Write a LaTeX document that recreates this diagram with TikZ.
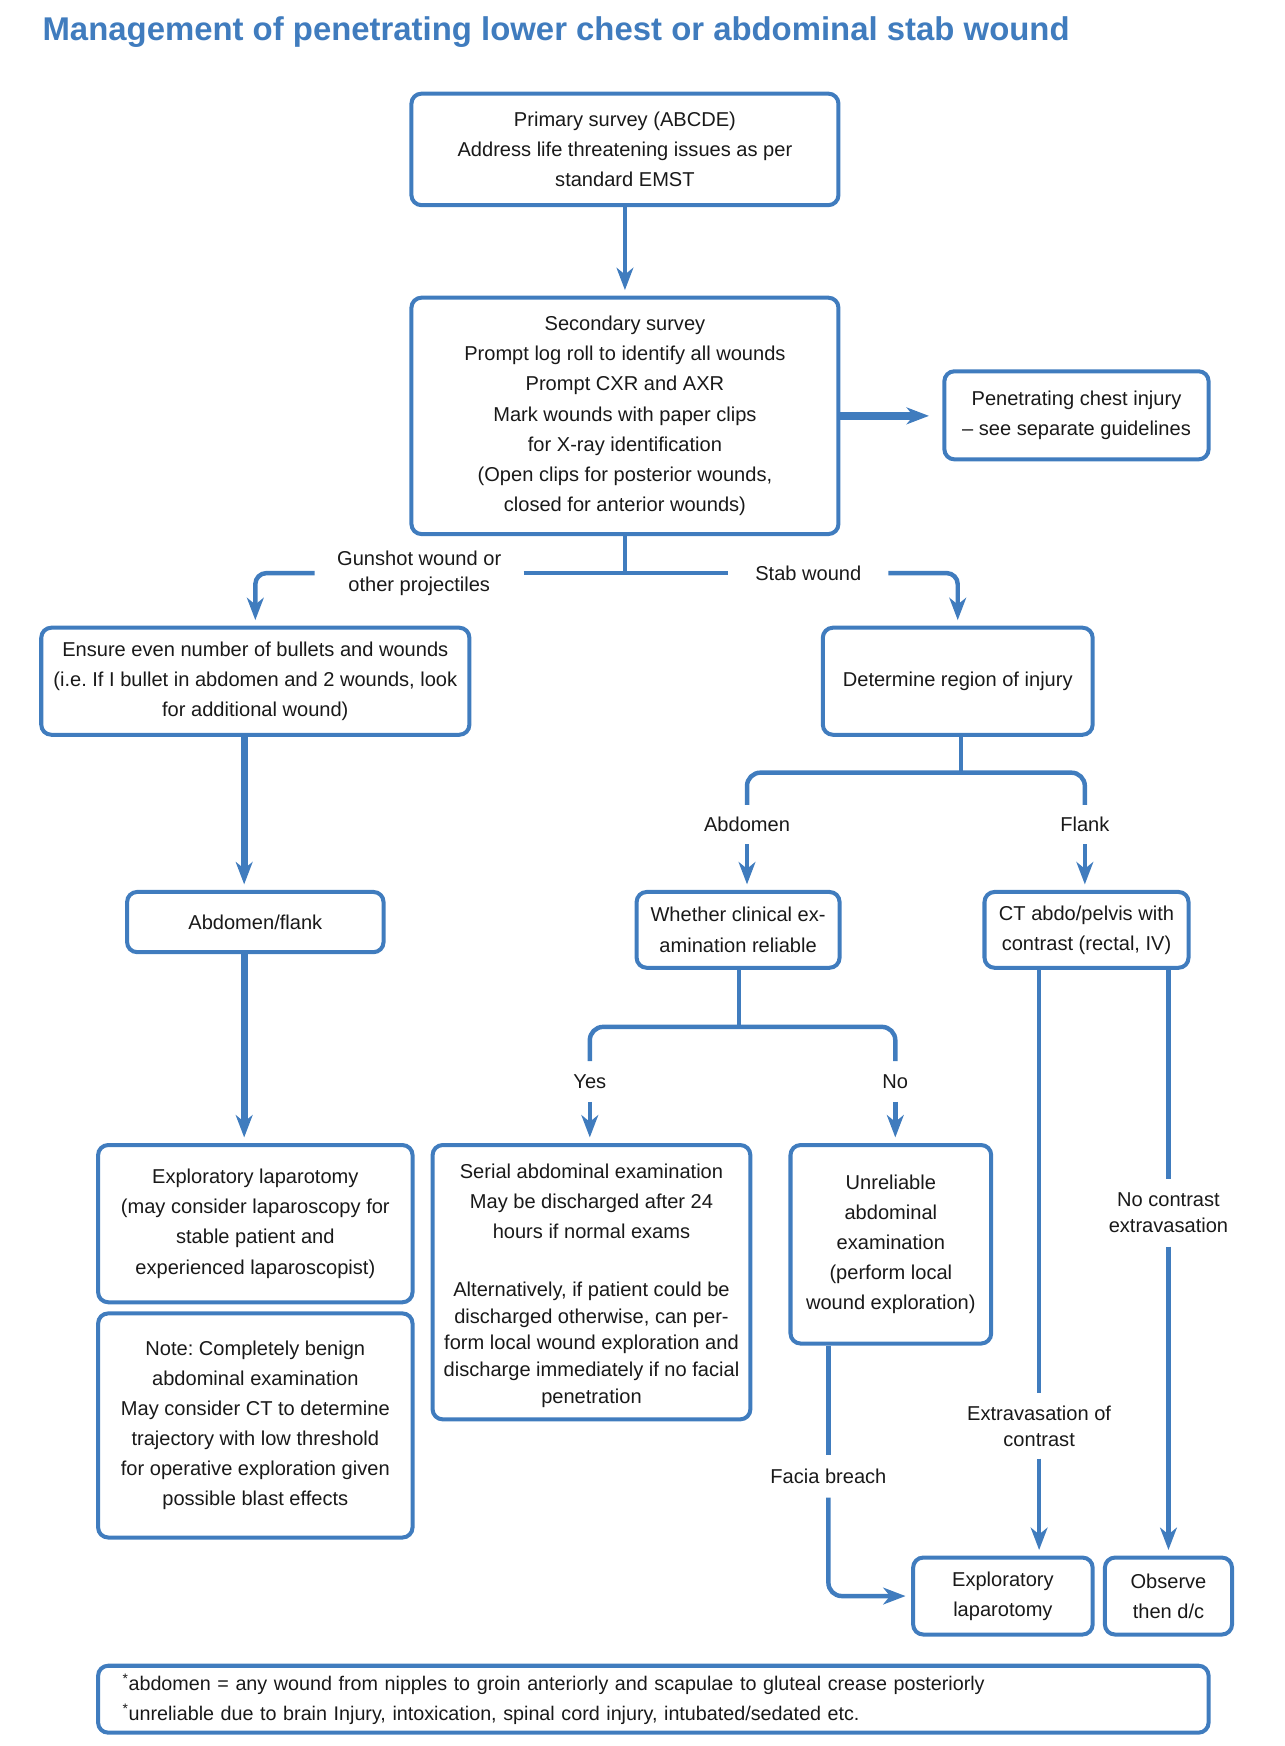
\documentclass[tikz,border=0pt]{standalone}
\usepackage{fontspec}
\setmainfont{Liberation Sans}
\usetikzlibrary{arrows.meta}
\definecolor{cblue}{RGB}{64,124,190}
\definecolor{ctext}{RGB}{25,25,25}
\frenchspacing
\begin{document}
\begin{tikzpicture}[x=1pt,y=-1pt,
  box/.style={draw=cblue, line width=3.6pt, rounded corners=9pt, align=center, inner sep=0pt, text=ctext, font=\fontsize{18}{27}\selectfont},
  lab/.style={align=center, inner xsep=20pt, inner ysep=0pt, text=ctext, font=\fontsize{18}{23.5}\selectfont},
  conn/.style={draw=cblue, line width=4pt},
  arr/.style={conn, -{Stealth[length=20pt,width=15pt,inset=6pt]}, shorten >=5pt},
  thick arr/.style={arr, line width=6pt},
]
\useasboundingbox (0,0) rectangle (1152,1566);

\node[anchor=base west, inner sep=0pt, text=cblue, font=\fontsize{29.5}{36}\selectfont\bfseries] (title) at (38,36) {Management of penetrating lower chest or abdominal stab wound};

% boxes
\node[box, minimum width=383, minimum height=100] (b1) at (560.5,134) {Primary survey (ABCDE)\\Address life threatening issues as per\\standard EMST};
\node[box, minimum width=383, minimum height=212] (b2) at (560.5,373) {Secondary survey\\Prompt log roll to identify all wounds\\Prompt CXR and AXR\\Mark wounds with paper clips\\for X-ray identification\\(Open clips for posterior wounds,\\closed for anterior wounds)};
\node[box, minimum width=237, minimum height=79] (b3) at (965.5,372.5) {Penetrating chest injury\\– see separate guidelines};
\node[box, minimum width=384, minimum height=96] (b4) at (229,611) {Ensure even number of bullets and wounds\\(i.e. If I bullet in abdomen and 2 wounds, look\\for additional wound)};
\node[box, minimum width=242, minimum height=96] (b5) at (859,611) {Determine region of injury};
\node[box, minimum width=230, minimum height=54] (b6) at (229,827) {Abdomen/flank};
\node[box, minimum width=182, minimum height=68] (b7) at (662,834) {Whether clinical ex-\\amination reliable};
\node[box, minimum width=183, minimum height=68] (b8) at (974.5,834) {CT abdo/pelvis with\\contrast (rectal, IV)};
\node[box, minimum width=282, minimum height=141] (b9) at (229,1097.5) {Exploratory laparotomy\\(may consider laparoscopy for\\stable patient and\\experienced laparoscopist)};
\node[box, minimum width=282, minimum height=201] (b10) at (229,1278.5) {Note: Completely benign\\abdominal examination\\May consider CT to determine\\trajectory with low threshold\\for operative exploration given\\possible blast effects};
\node[box, minimum width=285, minimum height=246] (b11) at (530.5,1150) {\rule{0pt}{19pt}Serial abdominal examination\\May be discharged after 24\\hours if normal exams\\[25pt]Alternatively, if patient could be\\[-3pt]discharged otherwise, can per-\\[-3pt]form local wound exploration and\\[-3pt]discharge immediately if no facial\\[-3pt]penetration};
\node[box, minimum width=180, minimum height=178] (b12) at (799,1116) {Unreliable\\abdominal\\examination\\(perform local\\wound exploration)};
\node[box, minimum width=161, minimum height=69] (b13) at (899.5,1431.5) {Exploratory\\laparotomy};
\node[box, minimum width=114, minimum height=69] (b14) at (1048,1431.5) {Observe\\then d/c};
\node[box, align=left, text width=952, inner xsep=22pt, minimum height=60, font=\fontsize{17.7}{27}\selectfont] (b15) at (586,1524) {\textsuperscript{*}abdomen = any wound from nipples to groin anteriorly and scapulae to gluteal crease posteriorly\\\textsuperscript{*}unreliable due to brain Injury, intoxication, spinal cord injury, intubated/sedated etc.};

% labels
\node[lab] (lgun) at (376,514) {Gunshot wound or\\other projectiles};
\node[lab, inner xsep=24pt] (lstab) at (725,514) {Stab wound};
\node[lab, minimum height=35] (labd) at (670,739.5) {Abdomen};
\node[lab, minimum height=35] (lflank) at (973,739.5) {Flank};
\node[lab, minimum height=36] (lyes) at (529,970) {Yes};
\node[lab, minimum height=36] (lno) at (803,970) {No};
\node[lab, minimum height=58] (lextra) at (932,1279) {Extravasation of\\contrast};
\node[lab, minimum height=60] (lnocon) at (1048,1088) {No contrast\\extravasation};
\node[lab, minimum height=38] (lfacia) at (743,1324) {Facia breach};

\coordinate (j5) at (862,693);
\coordinate (j7) at (663,921);

% connectors
\draw[arr] (b1.south) -- (b2.north);
\draw[arr, line width=7pt, shorten >=12pt] (b2.east) -- (b2.east -| b3.west);
\draw[conn] (b2.south) -- (b2.south |- lstab.west);
\draw[conn] (lgun.east) -- (lstab.west);
\draw[arr, rounded corners=10pt] (lgun.west) -| (b4.north);
\draw[arr, rounded corners=10pt] (lstab.east) -| (b5.north);

\draw[thick arr] ([xshift=-10pt]b4.south) -- ([xshift=-10pt]b6.north);
\draw[thick arr] ([xshift=-10pt]b6.south) -- ([xshift=-10pt]b9.north);

\draw[conn] (b5.south -| j5) -- (j5);
\draw[conn, rounded corners=12pt] (labd.north) |- (j5) -| (lflank.north);
\draw[arr] (labd.south) -- (labd.south |- b7.north);
\draw[arr] (lflank.south) -- (lflank.south |- b8.north);

\draw[conn] (b7.south -| j7) -- (j7);
\draw[conn, rounded corners=12pt] (lyes.north) |- (j7) -| (lno.north);
\draw[arr] (lyes.south) -- (lyes.south |- b11.north);
\draw[arr] (lno.south) -- (lno.south |- b12.north);

\draw[conn] (lextra.north |- b8.south) -- (lextra.north);
\draw[arr] (lextra.south) -- (lextra.south |- b13.north);
\draw[conn] (lnocon.north |- b8.south) -- (lnocon.north);
\draw[arr] (lnocon.south) -- (lnocon.south |- b14.north);

\draw[conn] (lfacia.north |- b12.south) -- (lfacia.north);
\draw[arr, rounded corners=12pt] (lfacia.south) |- (b13.west);
\end{tikzpicture}
\end{document}
